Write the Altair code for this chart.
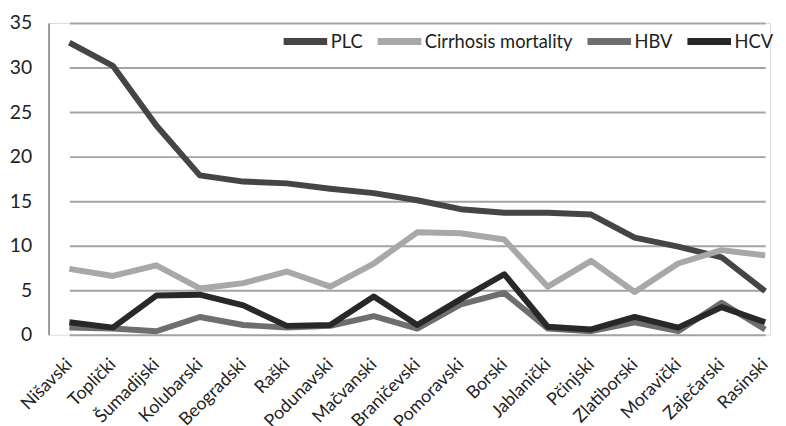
import altair as alt
import pandas as pd

regions = ["Nišavski", "Toplički", "Šumadijski", "Kolubarski", "Beogradski", "Raški",
           "Podunavski", "Mačvanski", "Braničevski", "Pomoravski", "Borski", "Jablanički",
           "Pčinjski", "Zlatiborski", "Moravički", "Zaječarski", "Rasinski"]
plc = [32.8, 30.2, 23.5, 17.9, 17.2, 17.0, 16.4, 15.9, 15.1, 14.1, 13.7, 13.7, 13.5, 10.9, 9.9, 8.7, 4.9]
cirrhosis = [7.4, 6.6, 7.8, 5.2, 5.8, 7.1, 5.4, 8.0, 11.5, 11.4, 10.7, 5.4, 8.3, 4.8, 8.0, 9.5, 8.9]
hbv = [0.8, 0.7, 0.4, 2.0, 1.1, 0.8, 1.0, 2.1, 0.7, 3.4, 4.7, 0.7, 0.4, 1.4, 0.4, 3.6, 0.6]
hcv = [1.4, 0.8, 4.4, 4.5, 3.3, 1.0, 1.1, 4.3, 1.1, 4.0, 6.8, 0.9, 0.6, 2.0, 0.8, 3.1, 1.4]

series_names = ["PLC", "Cirrhosis mortality", "HBV", "HCV"]
series_colors = ["#454545", "#a8a8a8", "#6e6e6e", "#282828"]

rows = []
for name, vals in zip(series_names, [plc, cirrhosis, hbv, hcv]):
    for r, v in zip(regions, vals):
        rows.append({"region": r, "series": name, "value": v})
df = pd.DataFrame(rows)

FONT = "Lato"

chart = alt.Chart(df).mark_line(strokeWidth=6, strokeJoin="round", strokeCap="butt").encode(
    x=alt.X("region:N", sort=regions, title=None,
            scale=alt.Scale(type="point", range=[21, 724], padding=0),
            axis=alt.Axis(labelAngle=-45, labelAlign="right", labelBaseline="middle",
                          labelPadding=27, labelFontSize=18, labelColor="#222",
                          labelFont=FONT, ticks=False, domain=False, grid=False)),
    y=alt.Y("value:Q", title=None,
            scale=alt.Scale(domain=[0, 35], nice=False),
            axis=alt.Axis(values=[0, 5, 10, 15, 20, 25, 30, 35], labelFontSize=19.5,
                          labelColor="#222", labelFont=FONT, ticks=False, labelPadding=17,
                          domainColor="#999", domainWidth=2,
                          gridColor="#a3a3a3", gridWidth=2)),
    color=alt.Color("series:N", sort=series_names,
                    scale=alt.Scale(domain=series_names, range=series_colors),
                    legend=alt.Legend(title=None, orient="none", direction="horizontal",
                                      legendX=234, legendY=-7, symbolType="stroke",
                                      symbolSize=1936, symbolStrokeWidth=7,
                                      labelFontSize=18.5, labelFont=FONT, labelColor="#222",
                                      columnPadding=0, labelOffset=0)),
).properties(
    width=729, height=315,
    autosize=alt.AutoSizeParams(type="none"),
    padding={"left": 41, "top": 13, "right": 8, "bottom": 90},
).configure_view(stroke=None).configure(background="white")

chart.save("out.html", embed_options={"renderer": "svg", "actions": False})
